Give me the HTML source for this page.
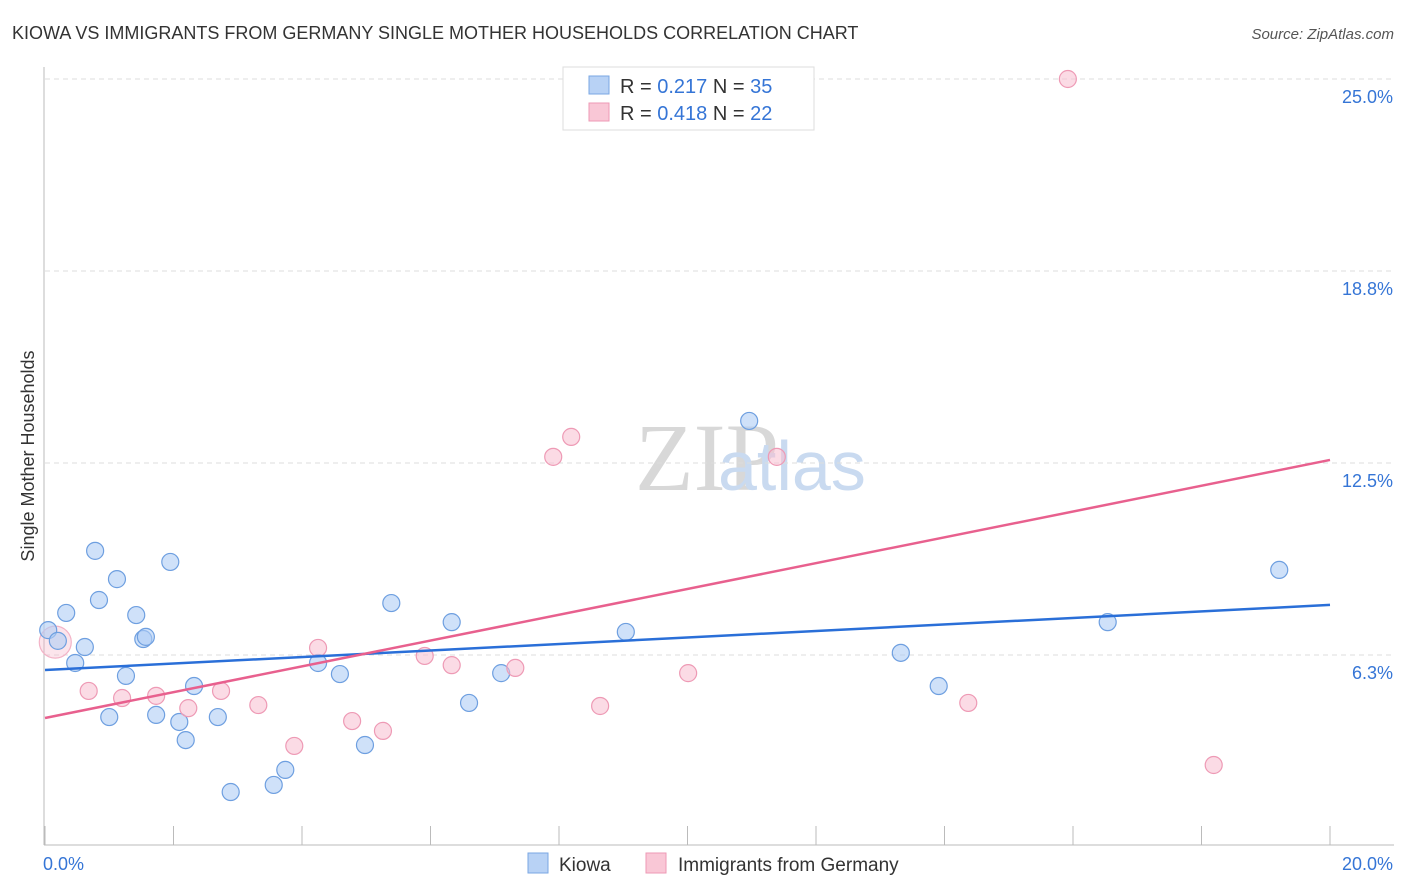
<!DOCTYPE html>
<html><head><meta charset="utf-8"><style>
body{margin:0;background:#fff;font-family:"Liberation Sans",sans-serif;}
#wrap{position:relative;width:1406px;height:892px;overflow:hidden;}
</style></head><body>
<div id="wrap">
<svg id="svg" width="1406" height="892" xmlns="http://www.w3.org/2000/svg">
<text x="12" y="39" font-size="18" fill="#333">KIOWA VS IMMIGRANTS FROM GERMANY SINGLE MOTHER HOUSEHOLDS CORRELATION CHART</text>
<text x="1394" y="39" font-size="15" fill="#555" font-style="italic" text-anchor="end">Source: ZipAtlas.com</text>
<text x="635" y="490" font-size="96" fill="#d8d8d8" font-family="Liberation Serif">ZIP</text>
<text x="718" y="490" font-size="70" fill="#c9daf0">atlas</text>
<text transform="translate(34,456) rotate(-90)" font-size="18" fill="#333" text-anchor="middle">Single Mother Households</text>
<g id="grid"></g><g id="axes"></g><g id="marks"></g>
<g>
<rect x="563" y="67" width="251" height="63" fill="#fff" stroke="#ddd"/>
<rect x="589" y="76" width="20" height="18" fill="#b8d2f5" stroke="#7aa7e3"/>
<text x="620" y="93" font-size="20" fill="#333">R = <tspan fill="#3575d6">0.217</tspan>   N = <tspan fill="#3575d6">35</tspan></text>
<rect x="589" y="103" width="20" height="18" fill="#f9c7d6" stroke="#ee9ab5"/>
<text x="620" y="120" font-size="20" fill="#333">R = <tspan fill="#3575d6">0.418</tspan>   N = <tspan fill="#3575d6">22</tspan></text>
</g>
<g>
<rect x="528" y="853" width="20" height="20" fill="#b8d2f5" stroke="#7aa7e3"/>
<text x="559" y="871" font-size="19" fill="#333">Kiowa</text>
<rect x="646" y="853" width="20" height="20" fill="#f9c7d6" stroke="#ee9ab5"/>
<text x="678" y="871" font-size="19" fill="#333">Immigrants from Germany</text>
</g>
</svg>
</div>
<script>
const xTicks=[0,20];
const yTicks=[6.25,12.5,18.75,25];
const yTickLabels=["6.3%","12.5%","18.8%","25.0%"];
const kiowaX=[0.05,0.20,0.33,0.62,0.47,0.78,0.84,1.12,1.00,1.26,1.42,1.53,1.57,1.73,1.95,2.09,2.19,2.32,2.69,2.89,3.56,3.74,4.25,4.59,4.98,5.39,6.33,6.60,7.10,9.04,10.96,13.32,13.91,16.54,19.21];
const kiowaY=[7.06,6.71,7.62,6.51,5.99,9.64,8.04,8.72,4.23,5.57,7.55,6.77,6.84,4.30,9.28,4.07,3.48,5.24,4.23,1.79,2.02,2.51,5.99,5.63,3.32,7.94,7.32,4.69,5.66,7.00,13.87,6.32,5.24,7.32,9.02];
const germX=[0.68,1.20,1.73,2.23,2.74,3.32,3.88,4.25,4.78,5.26,5.91,6.33,7.32,7.91,8.19,8.64,10.01,11.39,14.37,15.92,18.19];
const germY=[5.08,4.85,4.92,4.52,5.08,4.62,3.29,6.48,4.10,3.78,6.22,5.92,5.83,12.70,13.35,4.59,5.66,12.70,4.69,25.0,2.67];
const germBigX=[0.16], germBigY=[6.67];
const kiowaTrend=[5.76,7.88];
const germTrend=[4.20,12.60];
const NS="http://www.w3.org/2000/svg";
const X=v=>45+v*64.25, Y=v=>847-v*30.72;
function mk(t,a,p){const e=document.createElementNS(NS,t);for(const k in a)e.setAttribute(k,a[k]);document.getElementById(p).appendChild(e);return e;}
yTicks.forEach((t,i)=>{
 const g=mk('line',{x1:45,x2:1394,y1:Y(t),y2:Y(t),stroke:'#ddd','stroke-dasharray':'5,4'},'grid');
 
 
 const l=mk('text',{x:1393,y:Y(t)+24,'font-size':18,fill:'#3575d6','text-anchor':'end'},'axes');
 l.textContent=yTickLabels[i];
 
 
});
const ya=mk('line',{x1:44,x2:44,y1:67,y2:845,stroke:'#bbb'},'axes');


const xa=mk('line',{x1:44,x2:1394,y1:845,y2:845,stroke:'#bbb'},'axes');


for(let i=0;i<=10;i++){
 const t=mk('line',{x1:X(i*2),x2:X(i*2),y1:826,y2:845,stroke:'#bbb'},'axes');
 
 
}
xTicks.forEach((t,i)=>{
 const l=mk('text',{x:i?X(t)+63:X(t)-2,y:870,'font-size':18,fill:'#3575d6','text-anchor':i?'end':'start'},'axes');
 l.textContent=t.toFixed(1)+'%';
 
 
});
function dots(xs,ys,fill,stroke,r,name){xs.forEach((v,i)=>{
 const c=mk('circle',{cx:X(v),cy:Y(ys[i]),r:r,fill:fill,stroke:stroke,'stroke-width':1.2},'marks');
 
 
});}
dots(germBigX,germBigY,'rgba(246,180,200,0.35)','#f3b3c7',16,'germany-point-large');
dots(kiowaX,kiowaY,'rgba(175,205,245,0.6)','#6e9fe0',8.5,'kiowa-point');
dots(germX,germY,'rgba(248,190,208,0.55)','#ee9ab5',8.5,'germany-point');
const kt=mk('line',{x1:X(0),y1:Y(kiowaTrend[0]),x2:X(20),y2:Y(kiowaTrend[1]),stroke:'#2a6fd8','stroke-width':2.5},'marks');


const gt=mk('line',{x1:X(0),y1:Y(germTrend[0]),x2:X(20),y2:Y(germTrend[1]),stroke:'#e8608e','stroke-width':2.5},'marks');


</script>
</body></html>
